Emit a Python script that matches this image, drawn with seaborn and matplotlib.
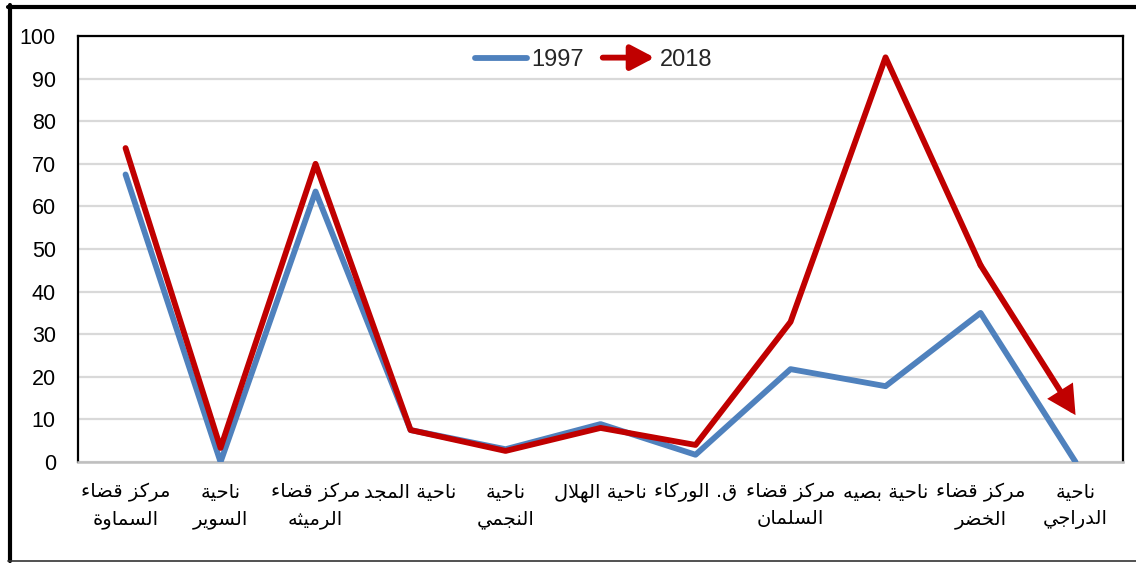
import numpy as np
import pandas as pd
import seaborn as sns
import matplotlib
matplotlib.use("Agg")
import matplotlib.pyplot as plt
from matplotlib.patches import FancyArrowPatch
from matplotlib.lines import Line2D
from matplotlib.legend_handler import HandlerBase

# ---- data -------------------------------------------------------------
categories = [
    "مركز قضاء\nالسماوة",
    "ناحية\nالسوير",
    "مركز قضاء\nالرميثه",
    "ناحية المجد",
    "ناحية\nالنجمي",
    "ناحية الهلال",
    "ق. الوركاء",
    "مركز قضاء\nالسلمان",
    "ناحية بصيه",
    "مركز قضاء\nالخضر",
    "ناحية\nالدراجي",
]
values_1997 = [67.5, 0.0, 63.5, 7.5, 3.0, 8.9, 1.7, 21.8, 17.8, 35.0, 0.0]
values_2018 = [73.7, 3.3, 70.0, 7.5, 2.6, 8.0, 4.0, 32.9, 95.0, 46.2, 11.0]
series_names = ["1997", "2018"]
y_ticks = list(range(0, 101, 10))

BLUE = "#4F81BD"
RED = "#C00000"

# ---- minimal Arabic shaping (contextual forms + right-to-left order) ----
# letter: (isolated, final, initial, medial); None = letter does not join forward
FORMS = {
    "ء": (0xFE80, None, None, None),
    "آ": (0xFE81, 0xFE82, None, None),
    "أ": (0xFE83, 0xFE84, None, None),
    "ؤ": (0xFE85, 0xFE86, None, None),
    "إ": (0xFE87, 0xFE88, None, None),
    "ئ": (0xFE89, 0xFE8A, 0xFE8B, 0xFE8C),
    "ا": (0xFE8D, 0xFE8E, None, None),
    "ب": (0xFE8F, 0xFE90, 0xFE91, 0xFE92),
    "ة": (0xFE93, 0xFE94, None, None),
    "ت": (0xFE95, 0xFE96, 0xFE97, 0xFE98),
    "ث": (0xFE99, 0xFE9A, 0xFE9B, 0xFE9C),
    "ج": (0xFE9D, 0xFE9E, 0xFE9F, 0xFEA0),
    "ح": (0xFEA1, 0xFEA2, 0xFEA3, 0xFEA4),
    "خ": (0xFEA5, 0xFEA6, 0xFEA7, 0xFEA8),
    "د": (0xFEA9, 0xFEAA, None, None),
    "ذ": (0xFEAB, 0xFEAC, None, None),
    "ر": (0xFEAD, 0xFEAE, None, None),
    "ز": (0xFEAF, 0xFEB0, None, None),
    "س": (0xFEB1, 0xFEB2, 0xFEB3, 0xFEB4),
    "ش": (0xFEB5, 0xFEB6, 0xFEB7, 0xFEB8),
    "ص": (0xFEB9, 0xFEBA, 0xFEBB, 0xFEBC),
    "ض": (0xFEBD, 0xFEBE, 0xFEBF, 0xFEC0),
    "ط": (0xFEC1, 0xFEC2, 0xFEC3, 0xFEC4),
    "ظ": (0xFEC5, 0xFEC6, 0xFEC7, 0xFEC8),
    "ع": (0xFEC9, 0xFECA, 0xFECB, 0xFECC),
    "غ": (0xFECD, 0xFECE, 0xFECF, 0xFED0),
    "ف": (0xFED1, 0xFED2, 0xFED3, 0xFED4),
    "ق": (0xFED5, 0xFED6, 0xFED7, 0xFED8),
    "ك": (0xFED9, 0xFEDA, 0xFEDB, 0xFEDC),
    "ل": (0xFEDD, 0xFEDE, 0xFEDF, 0xFEE0),
    "م": (0xFEE1, 0xFEE2, 0xFEE3, 0xFEE4),
    "ن": (0xFEE5, 0xFEE6, 0xFEE7, 0xFEE8),
    "ه": (0xFEE9, 0xFEEA, 0xFEEB, 0xFEEC),
    "و": (0xFEED, 0xFEEE, None, None),
    "ى": (0xFEEF, 0xFEF0, None, None),
    "ي": (0xFEF1, 0xFEF2, 0xFEF3, 0xFEF4),
}
LAM_ALEF = {"ا": (0xFEFB, 0xFEFC), "أ": (0xFEF7, 0xFEF8),
            "إ": (0xFEF9, 0xFEFA), "آ": (0xFEF5, 0xFEF6)}


def _joins_forward(ch):
    return ch in FORMS and FORMS[ch][2] is not None


def _joins_back(ch):
    return ch in FORMS and FORMS[ch][1] is not None


def shape_line(text):
    out = []
    i = 0
    n = len(text)
    while i < n:
        c = text[i]
        if c not in FORMS:
            out.append(c)
            i += 1
            continue
        prev = text[i - 1] if i > 0 else None
        nxt = text[i + 1] if i + 1 < n else None
        link_prev = prev is not None and _joins_forward(prev) and _joins_back(c)
        if c == "ل" and nxt in LAM_ALEF:
            out.append(chr(LAM_ALEF[nxt][1 if link_prev else 0]))
            i += 2
            continue
        link_next = _joins_forward(c) and nxt is not None and _joins_back(nxt)
        iso, fin, ini, med = FORMS[c]
        if link_prev and link_next:
            code = med
        elif link_prev:
            code = fin
        elif link_next:
            code = ini
        else:
            code = iso
        out.append(chr(code))
        i += 1
    return "".join(out)[::-1]


def arabic(text):
    return "\n".join(shape_line(line) for line in text.split("\n"))


# ---- long-form table for seaborn ------------------------------------
positions = np.arange(len(categories))
df = pd.DataFrame({
    "pos": np.concatenate([positions, positions]),
    "value": values_1997 + values_2018,
    "year": [series_names[0]] * len(positions) + [series_names[1]] * len(positions),
})

sns.set_theme(style="white")
plt.rcParams["font.family"] = ["Liberation Sans", "DejaVu Sans"]

fig = plt.figure(figsize=(11.36, 5.63), dpi=100)
ax = fig.add_axes([0.0687, 0.1794, 0.9199, 0.7566])

LW = 4.2

# 1997 series
sns.lineplot(data=df[df["year"] == "1997"], x="pos", y="value", color=BLUE,
             linewidth=LW, ax=ax, legend=False, sort=True, zorder=3)

# 2018 series: polyline up to the penultimate point, final segment as an arrow
d18 = df[df["year"] == "2018"].reset_index(drop=True)
sns.lineplot(data=d18.iloc[:-1], x="pos", y="value", color=RED,
             linewidth=LW, ax=ax, legend=False, sort=True, zorder=4)
ARROW_STYLE = "-|>,head_length=0.95,head_width=0.5"
ax.annotate("", xy=(d18["pos"].iloc[-1], d18["value"].iloc[-1]),
            xytext=(d18["pos"].iloc[-2], d18["value"].iloc[-2]),
            arrowprops=dict(arrowstyle=ARROW_STYLE, color=RED, lw=LW,
                            shrinkA=0, shrinkB=0, mutation_scale=15,
                            capstyle="round", joinstyle="miter"),
            zorder=4)

# axes styling
ax.set_xlim(-0.5, len(categories) - 0.5)
ax.set_ylim(0, 100)
ax.set_yticks(y_ticks)
ax.set_yticklabels([str(t) for t in y_ticks], fontsize=15.5, color="black")
ax.set_xticks(positions)
ax.set_xticklabels([arabic(c) for c in categories], fontsize=14, color="black",
                   linespacing=1.5, family=["DejaVu Sans"])
ax.tick_params(axis="y", length=0, pad=16)
ax.tick_params(axis="x", length=0, pad=15)
ax.set_xlabel("")
ax.set_ylabel("")
ax.yaxis.grid(True, color="#D9D9D9", linewidth=1.6, zorder=0)
ax.xaxis.grid(False)
ax.set_axisbelow(True)
for side in ["left", "top", "right"]:
    ax.spines[side].set_color("black")
    ax.spines[side].set_linewidth(1.6)
ax.spines["bottom"].set_color("#BFBFBF")
ax.spines["bottom"].set_linewidth(1.8)


# legend with an arrow handle for the 2018 series
class ArrowHandler(HandlerBase):
    def create_artists(self, legend, orig_handle, xdescent, ydescent,
                       width, height, fontsize, trans):
        y = height / 2.0 - ydescent
        arr = FancyArrowPatch((-xdescent, y), (-xdescent + width, y),
                              arrowstyle=ARROW_STYLE, mutation_scale=15,
                              color=RED, lw=LW, shrinkA=0, shrinkB=0,
                              transform=trans)
        return [arr]


h1997 = Line2D([], [], color=BLUE, lw=LW, solid_capstyle="round")
h2018 = FancyArrowPatch((0, 0), (1, 0), arrowstyle=ARROW_STYLE, color=RED)
ax.legend([h1997, h2018], series_names, handler_map={FancyArrowPatch: ArrowHandler()},
          loc="center", bbox_to_anchor=(0.493, 0.944), ncol=2, frameon=False,
          fontsize=17, handlelength=2.2, handletextpad=0.2, columnspacing=0.8,
          borderpad=0.2)

# outer frame of the figure
fig.add_artist(Line2D([9.5 / 1136, 9.5 / 1136], [1 - 5 / 563, 1 - 561 / 563],
                      transform=fig.transFigure, color="black", lw=3))
fig.add_artist(Line2D([8 / 1136, 1136 / 1136], [1 - 7 / 563, 1 - 7 / 563],
                      transform=fig.transFigure, color="black", lw=3))
fig.add_artist(Line2D([8 / 1136, 1136 / 1136], [1 - 561 / 563, 1 - 561 / 563],
                      transform=fig.transFigure, color="#333333", lw=1.2))

fig.savefig("out.png", dpi=100, facecolor="white")
